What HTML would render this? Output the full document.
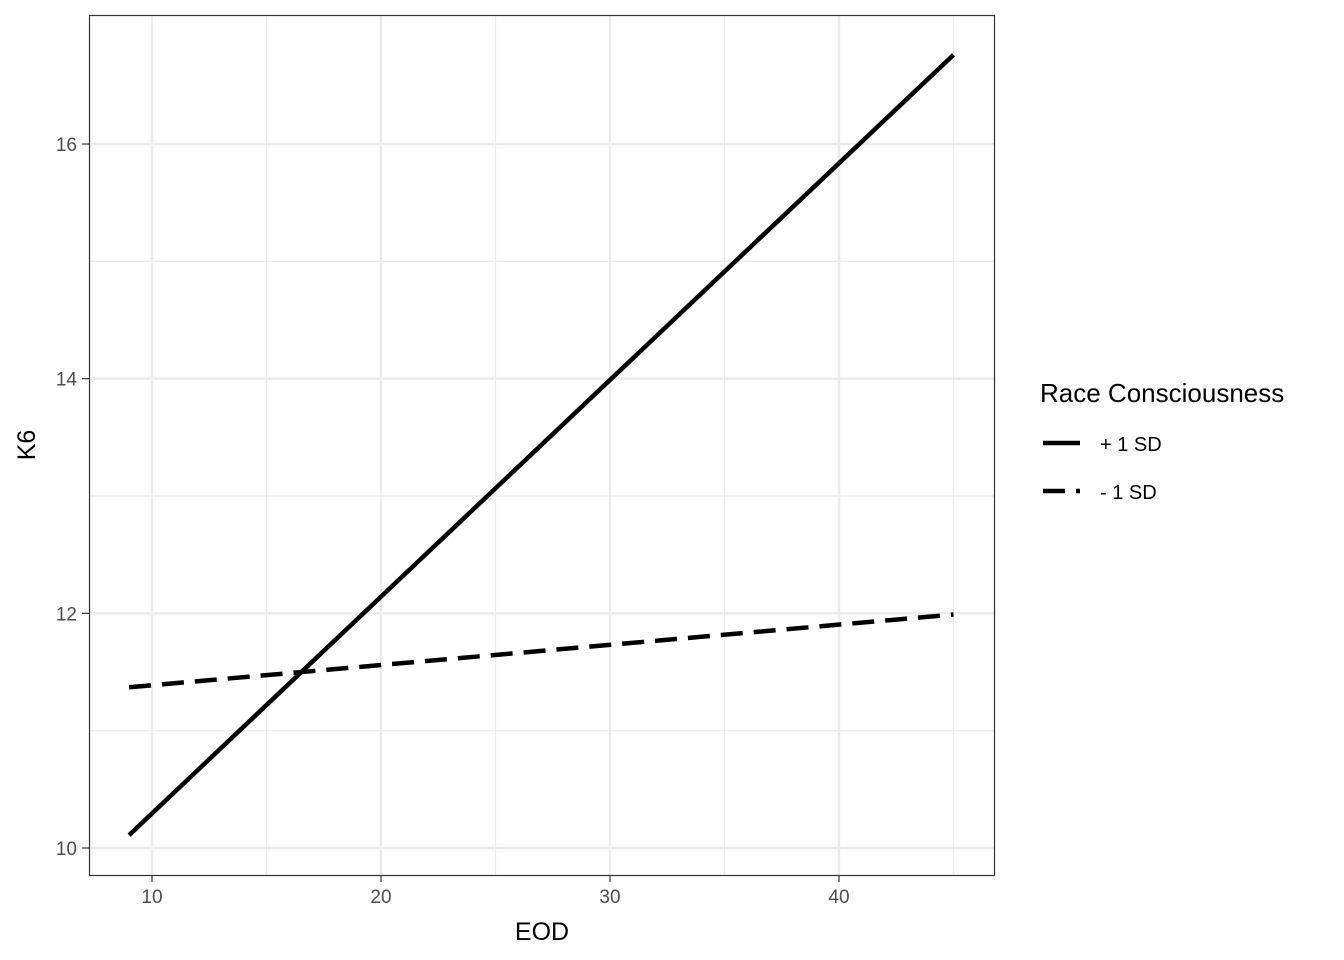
<!DOCTYPE html>
<html><head><meta charset="utf-8"><style>body{margin:0;background:#fff}svg{display:block;font-family:"Liberation Sans",Arial,sans-serif}</style></head>
<body>
<svg id="chart" width="1344" height="960" viewBox="0 0 1344 960" xmlns="http://www.w3.org/2000/svg">
<g id="grid"></g>
<g id="series"></g>
<rect x="89.5" y="15.5" width="905" height="860" fill="none" stroke="#333" stroke-width="1.2"/>
<g id="axes"></g>
<text x="542" y="940" font-size="25" text-anchor="middle">EOD</text>
<text transform="translate(35,445) rotate(-90)" font-size="25" text-anchor="middle">K6</text>
<g>
<text x="1040" y="402" font-size="26">Race Consciousness</text>
<line x1="1043" y1="443" x2="1080" y2="443" stroke="#000" stroke-width="4.5"/>
<text x="1100" y="451" font-size="20">+ 1 SD</text>
<line x1="1043" y1="491" x2="1080" y2="491" stroke="#000" stroke-width="4.5" stroke-dasharray="22 11"/>
<text x="1100" y="499" font-size="20">- 1 SD</text>
</g>
</svg>
<script>
const xTicks=[10,20,30,40];
const xMinor=[15,25,35,45];
const yTicks=[10,12,14,16];
const yMinor=[11,13,15];
const eod=[9,45];
const plusSD=[10.11,16.76];
const minusSD=[11.37,11.99];
const NS="http://www.w3.org/2000/svg";
const sx=v=>152+(v-10)*22.9;
const sy=v=>848-(v-10)*117.33;
const grid=document.getElementById('grid'),axes=document.getElementById('axes'),series=document.getElementById('series');
function mk(tag,at,p){const e=document.createElementNS(NS,tag);for(const k in at)e.setAttribute(k,at[k]);p.appendChild(e);return e;}
xMinor.forEach(v=>{const e=mk('line',{x1:sx(v),x2:sx(v),y1:15,y2:875,stroke:'#ebebeb','stroke-width':1.2},grid);

});
yMinor.forEach(v=>{const e=mk('line',{x1:89,x2:995,y1:sy(v),y2:sy(v),stroke:'#ebebeb','stroke-width':1.2},grid);

});
xTicks.forEach(v=>{const e=mk('line',{x1:sx(v),x2:sx(v),y1:15,y2:875,stroke:'#ebebeb','stroke-width':2.4},grid);


const t=mk('line',{x1:sx(v),x2:sx(v),y1:875,y2:882,stroke:'#333','stroke-width':1.2},axes);


const l=mk('text',{x:sx(v),y:903,'font-size':19,fill:'#4d4d4d','text-anchor':'middle'},axes);l.textContent=v;

});
yTicks.forEach(v=>{const e=mk('line',{x1:89,x2:995,y1:sy(v),y2:sy(v),stroke:'#ebebeb','stroke-width':2.4},grid);


const t=mk('line',{x1:82,x2:89,y1:sy(v),y2:sy(v),stroke:'#333','stroke-width':1.2},axes);


const l=mk('text',{x:77,y:sy(v)+7,'font-size':19,fill:'#4d4d4d','text-anchor':'end'},axes);l.textContent=v;

});
function line(vals,dash,name){const pts=eod.map((x,i)=>sx(x)+','+sy(vals[i])).join(' ');
const e=mk('polyline',{points:pts,fill:'none',stroke:'#000','stroke-width':4.5},series);
if(dash)e.setAttribute('stroke-dasharray',dash);

}
line(plusSD,null,'line-plus-1sd');
line(minusSD,'22 11','line-minus-1sd');
</script>
</body></html>
